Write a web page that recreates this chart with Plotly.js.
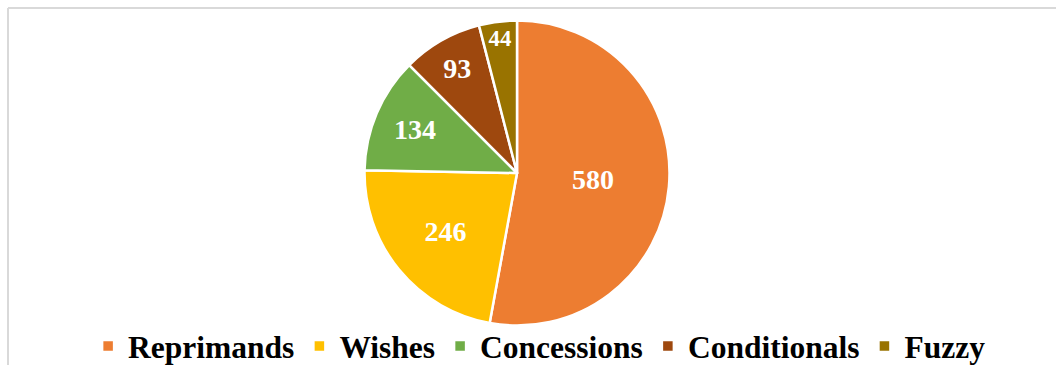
<!DOCTYPE html>
<html><head><meta charset="utf-8">
<script src="https://cdn.plot.ly/plotly-3.0.1.min.js"></script>
<style>html,body{margin:0;padding:0;background:#fff;overflow:hidden}#c{width:1056px;height:375px}</style>
</head><body><div id="c"></div>
<script>
const categories = ["Reprimands", "Wishes", "Concessions", "Conditionals", "Fuzzy"];
const counts = [580, 246, 134, 93, 44];
const colors = ["#ED7D31", "#FFC000", "#70AD47", "#9E480E", "#997300"];

const H = 375;
const trace = {
  type: "pie",
  labels: categories,
  values: counts,
  sort: false,
  direction: "clockwise",
  rotation: 0,
  marker: {colors: colors, line: {color: "#ffffff", width: 2.5}},
  textinfo: "value",
  textposition: "inside",
  insidetextorientation: "horizontal",
  textfont: {family: "Liberation Serif, Times New Roman, serif", size: 28, color: "#ffffff", weight: "bold"},
  hoverinfo: "none",
  domain: {x: [0.3452, 0.6340], y: [0.132, 0.9453]}
};

const layout = {
  width: 1056, height: H,
  margin: {l: 0, r: 0, t: 0, b: 0},
  paper_bgcolor: "#ffffff",
  showlegend: true,
  legend: {
    orientation: "h", x: 0.511, xanchor: "center", y: 0.005, yanchor: "bottom",
    bgcolor: "rgba(0,0,0,0)",
    font: {family: "Liberation Serif, Times New Roman, serif", size: 31.5, color: "#000000", weight: "bold"},
    itemclick: false
  },
  shapes: [
    {type: "line", xref: "paper", yref: "paper", x0: 8/1056, x1: 1.01, y0: 1 - 8/H, y1: 1 - 8/H, line: {color: "#d9d9d9", width: 2}},
    {type: "line", xref: "paper", yref: "paper", x0: 8/1056, x1: 8/1056, y0: 1 - 8/H, y1: -0.01, line: {color: "#d9d9d9", width: 2}}
  ]
};
Plotly.newPlot("c", [trace], layout, {staticPlot: true});
</script></body></html>
